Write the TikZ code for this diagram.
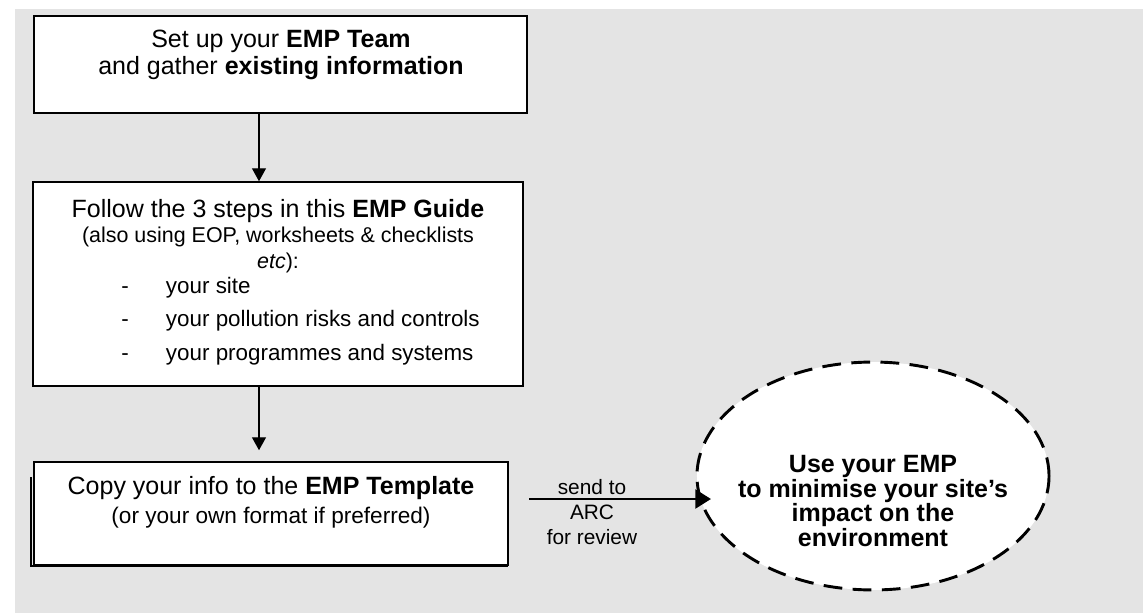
\documentclass[tikz,border=0pt]{standalone}
\usepackage{fontspec}
\setmainfont{Liberation Sans}
\usetikzlibrary{positioning,arrows.meta,shapes.geometric}
\definecolor{pagegray}{RGB}{228,228,228}

\tikzset{
  stepbox/.style={draw=black,fill=white,line width=0.75pt,inner sep=0pt},
  flow/.style={-{Triangle[length=6.2pt,width=6.7pt]},line width=0.6pt},
  send/.style={-{Triangle[length=7.5pt,width=9pt]},line width=1.4pt},
  goal/.style={ellipse,draw=black,fill=white,line width=1.4pt,
    dash pattern=on 9pt off 5pt,inner sep=0pt},
  bigtext/.style={font=\fontsize{12}{13.2}\selectfont,inner sep=0pt},
  smalltext/.style={font=\fontsize{10.3}{12.2}\selectfont,inner sep=0pt},
  listtext/.style={font=\fontsize{10.75}{16}\selectfont,inner sep=0pt,align=left},
  notetext/.style={font=\fontsize{10.85}{12.5}\selectfont,inner sep=0pt},
  sendtext/.style={font=\fontsize{10}{12.2}\selectfont,inner sep=0pt},
  goaltext/.style={font=\fontsize{12}{11.8}\selectfont\bfseries,inner sep=0pt}
}

\newcommand{\listdash}{\makebox[21.4pt][l]{-}}

\begin{document}
\begin{tikzpicture}[x=0.48pt,y=-0.48pt]
  \useasboundingbox (0,0) rectangle (1143,613);
  \fill[pagegray] (15,9) rectangle (1143,613);

  \coordinate (spine) at (259,0);

  % step 1
  \node[stepbox,minimum width=236.6pt,minimum height=46.6pt] (team) at (280.5,64.5) {};
  \node[bigtext,align=center] (teamtext) at (281,55)
    {Set up your \textbf{EMP Team}\\and gather \textbf{existing information}};

  % step 2
  \node[stepbox,minimum width=235.2pt,minimum height=97.9pt] (steps) at (278,284) {};
  \node[bigtext,anchor=base] (stepshead) at (278,217)
    {Follow the 3 steps in this \textbf{EMP Guide}};
  \node[smalltext,align=center] (stepsnote) at (278,250)
    {(also using EOP, worksheets \& checklists\\\textit{etc}):};
  \node[listtext,anchor=west] (stepslist) at (121,321)
    {\listdash your site\\\listdash your pollution risks and controls\\\listdash your programmes and systems};

  % step 3
  \draw[line width=0.75pt] (31,477) -- (31,566) -- (508,566);
  \node[stepbox,minimum width=227.5pt,minimum height=49.4pt] (copy) at (271,513.5) {};
  \node[bigtext,anchor=base] (copyhead) at (271,494)
    {Copy your info to the \textbf{EMP Template}};
  \node[notetext,anchor=base] (copynote) at (271,523)
    {(or your own format if preferred)};

  % goal
  \node[goal,minimum width=169pt,minimum height=109.4pt] (goal) at (873,476) {};
  \node[goaltext,align=center] (goaltxt) at (873,501)
    {Use your EMP\\to minimise your site’s\\impact on the\\environment};

  \draw[flow] (team.south -| spine) -- (steps.north -| spine);
  \draw[flow,shorten >=5.3pt] (steps.south -| spine) -- (copy.north -| spine);

  \coordinate (sendstart) at (529,499);
  \coordinate (sendend) at (711,499);
  \draw[send] (sendstart) -- (sendend);
  \node[sendtext,align=center] (sendnote) at (592,512) {send to\\ARC\\for review};
\end{tikzpicture}
\end{document}
